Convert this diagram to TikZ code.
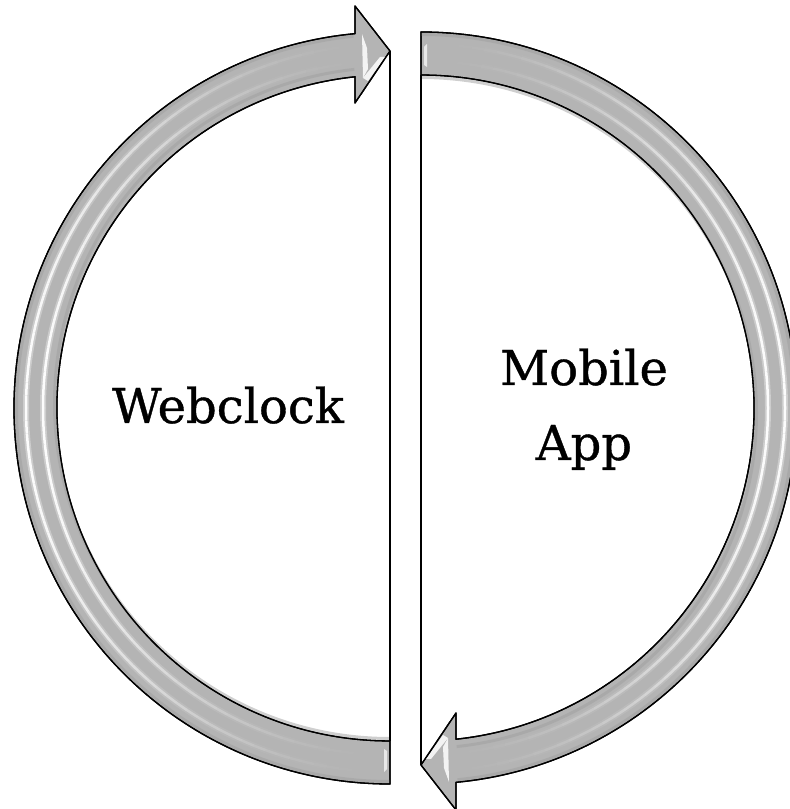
\documentclass[tikz,border=0pt]{standalone}
\usepackage{fontspec}
\setmainfont{DejaVu Serif}[FakeBold=0.8]
\definecolor{bandgray}{RGB}{180,180,180}
\definecolor{edgegray}{RGB}{160,160,160}
\tikzset{
  band/.style={fill=bandgray, draw=black, line width=1.3pt, line join=round},
  sep/.style={draw=black, line width=1.1pt},
  label/.style={font=\fontsize{48}{57}\selectfont, anchor=base, inner sep=0pt},
  glint/.style={fill=white, draw=none, opacity=0.85}
}
\newcommand{\halfarrow}{%
  \draw[band] (390,25) arc[start angle=270, end angle=95.34, radius=376]
     -- (355,803) -- (390,758) -- (355,706)
     -- (355,732.2) arc[start angle=96.03, end angle=270, radius=333] -- cycle;
  \draw[edgegray, line width=3pt, opacity=0.5] (390,27.5) arc[start angle=270, end angle=95.6, radius=373.5];
  \draw[edgegray, line width=3pt, opacity=0.5] (390,70.5) arc[start angle=270, end angle=96.1, radius=335.5];
  \foreach \a in {98,100,...,266}{
    \pgfmathsetmacro{\op}{0.95*sin(\a-90)*sin(\a-90)}
    \draw[white, line width=6pt, opacity=0.35*\op, line cap=butt]
      (390,401) ++(\a:364) arc[start angle=\a, end angle=\a+2, radius=364];
    \draw[white, line width=2.5pt, opacity=\op, line cap=butt]
      (390,401) ++(\a:364) arc[start angle=\a, end angle=\a+2, radius=364];
    \draw[white, line width=6pt, opacity=0.35*\op, line cap=butt]
      (390,401) ++(\a:347) arc[start angle=\a, end angle=\a+2, radius=347];
    \draw[white, line width=2.5pt, opacity=\op, line cap=butt]
      (390,401) ++(\a:347) arc[start angle=\a, end angle=\a+2, radius=347];
  }
  \path[glint] (363,731) -- (368,740) -- (367,761) -- (362,775) -- cycle;
  \path[glint] (385,752) -- (380,752) -- (363,731) -- (368,728) -- cycle;
  \path[glint, opacity=0.7] (384,37) -- (387,40) -- (387,58) -- (384,60) -- cycle;
  \draw[sep, line width=1.3pt, line join=round] (390,25) arc[start angle=270, end angle=95.34, radius=376]
     -- (355,803) -- (390,758) -- (355,706)
     -- (355,732.2) arc[start angle=96.03, end angle=270, radius=333] -- cycle;
}
\begin{document}
\begin{tikzpicture}[x=1pt,y=1pt]
\useasboundingbox (0,0) rectangle (790,809);
\halfarrow
\coordinate (ltip) at (390,758);
\coordinate (lbot) at (390,68);
\draw[sep] (ltip) -- (lbot);
\begin{scope}[rotate around={180:(405.5,401)}]
\halfarrow
\coordinate (rtip) at (390,758);
\coordinate (rtop) at (390,68);
\end{scope}
\draw[sep] (rtip) -- (rtop);
\node[label] (web) at (228,386) {Webclock};
\node[label] (mob) at (584,424) {Mobile};
\node[label] (app) at (584,349) {App};
\end{tikzpicture}
\end{document}
